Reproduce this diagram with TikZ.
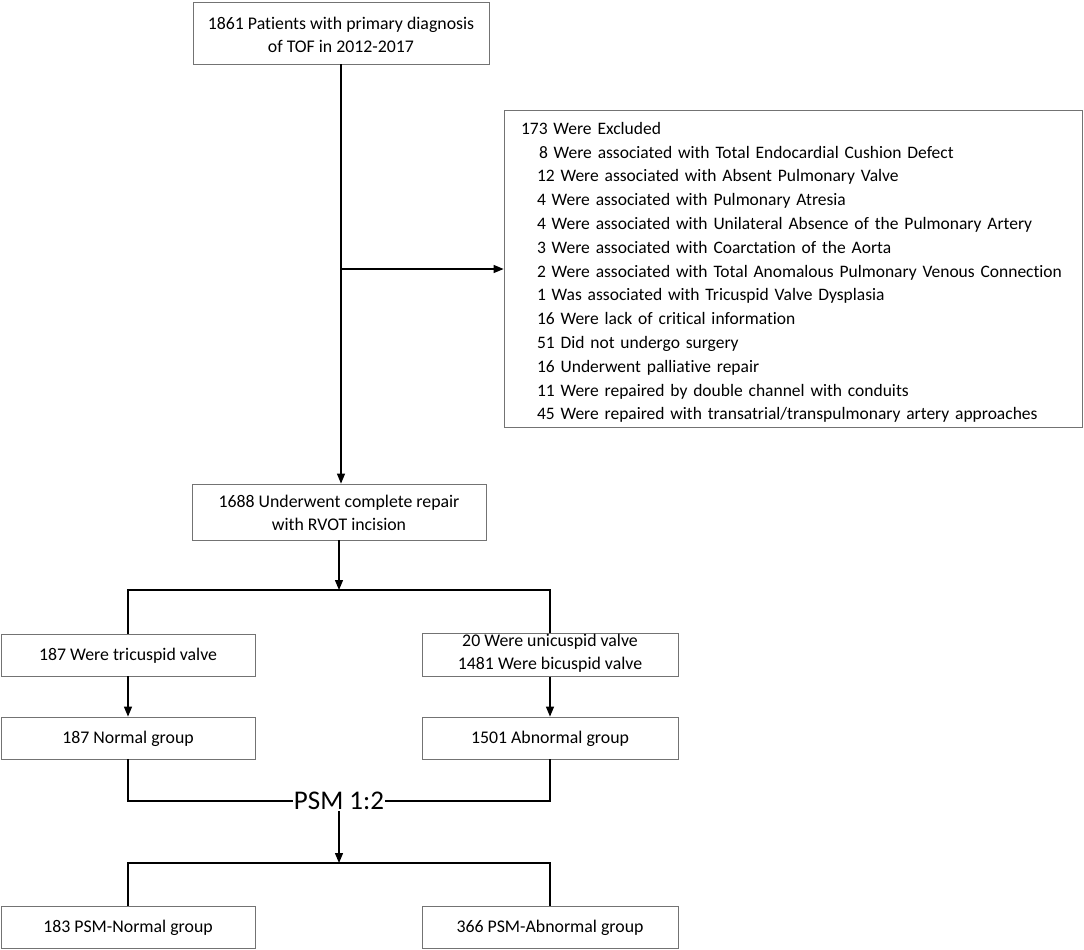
\documentclass[tikz,border=0pt]{standalone}
\usepackage{fontspec}
\setmainfont{Carlito}[Ligatures=NoCommon]
\usetikzlibrary{arrows.meta}
\usetikzlibrary{positioning}

\begin{document}
\begin{tikzpicture}[
		x=1pt, y=-1pt,
		X/.style = {rectangle, draw=black!55, line width=0.8pt,% styles of boxes
			minimum height=42pt, inner sep=0pt, align=center,
			font=\fontsize{17.8}{23.2}\selectfont,
			execute at begin node={\rule{0pt}{#1}}, execute at end node=\strut},
		X/.default=18.4pt, % height of the text box, moves text up or down
		AR/.style = {line width=1.3pt, -{Triangle[length=10pt, width=8pt]}},
		LN/.style = {line width=1.3pt},
		]
		\useasboundingbox (0,0) rectangle (1084,950);
		% boxes
		\node[X=46pt, minimum width=296pt, minimum height=62pt] (top) at (341,33)
			{1861 Patients with primary diagnosis\\ of TOF in 2012-2017};
		\node[X=23.5pt, minimum width=578pt, minimum height=316pt, inner xsep=17pt,
			text width=544pt, align=left, font=\fontsize{17.5}{23.8}\selectfont] (excl) at (793,269)
			{173 Were Excluded\\
			\hspace*{18pt}8 Were associated with Total Endocardial Cushion Defect\\
			\hspace*{16pt}12 Were associated with Absent Pulmonary Valve\\
			\hspace*{16pt}4 Were associated with Pulmonary Atresia\\
			\hspace*{16pt}4 Were associated with Unilateral Absence of the Pulmonary Artery\\
			\hspace*{16pt}3 Were associated with Coarctation of the Aorta\\
			\hspace*{16pt}2 Were associated with Total Anomalous Pulmonary Venous Connection\\
			\hspace*{16pt}1 Was associated with Tricuspid Valve Dysplasia\\
			\hspace*{16pt}16 Were lack of critical information\\
			\hspace*{16pt}51 Did not undergo surgery\\
			\hspace*{16pt}16 Underwent palliative repair\\
			\hspace*{16pt}11 Were repaired by double channel with conduits\\
			\hspace*{16pt}45 Were repaired with transatrial/transpulmonary artery approaches};
		\node[X=44pt, minimum width=294pt, minimum height=56pt] (mid) at (339,512)
			{1688 Underwent complete repair\\ with RVOT incision};
		\node[X, minimum width=254pt] (tric) at (128,655) {187 Were tricuspid valve};
		\node[X, minimum width=256pt] (uni) at (550,655)
			{20 Were unicuspid valve\\ 1481 Were bicuspid valve};
		\node[X, minimum width=254pt] (norm) at (128,738) {187 Normal group};
		\node[X, minimum width=256pt] (abn) at (550,738) {1501 Abnormal group};
		\node[inner sep=1pt, font=\fontsize{27}{30}\selectfont] (psm) at (339,801) {PSM 1:2};
		\node[X, minimum width=254pt] (pnorm) at (128,927) {183 PSM-Normal group};
		\node[X, minimum width=256pt] (pabn) at (550,927) {366 PSM-Abnormal group};
		% split points
		\coordinate (s1) at (339,590);
		\coordinate (s2) at (339,863);
		% connectors
		\draw[AR] (top.south) -- (top.south |- mid.north);
		\draw[AR] (top.south |- excl.west) -- (excl.west);
		\draw[AR] (mid.south) -- (s1);
		\draw[LN] (tric.north) |- (s1) -| (uni.north);
		\draw[AR] (tric) -- (norm);
		\draw[AR] (uni) -- (abn);
		\draw[LN] (norm.south) |- (psm.west);
		\draw[LN] (abn.south) |- (psm.east);
		\draw[AR] (psm.south) -- (s2);
		\draw[LN] (pnorm.north) |- (s2) -| (pabn.north);
	\end{tikzpicture}
\end{document}
